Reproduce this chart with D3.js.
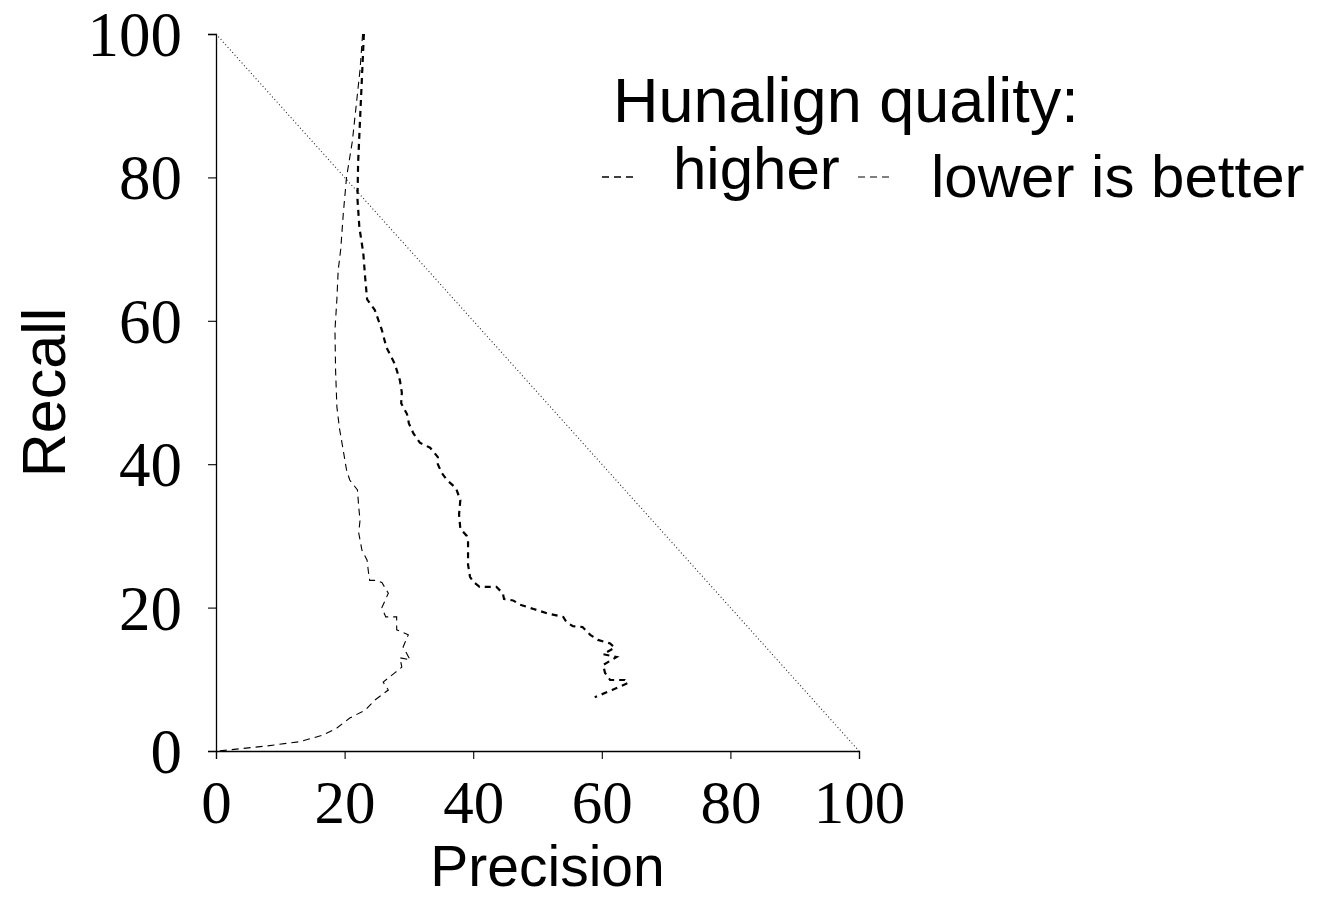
<!DOCTYPE html>
<html>
<head>
<meta charset="utf-8">
<script src="https://cdn.jsdelivr.net/npm/d3@7"></script>
<style>
  body { margin: 0; background: #fff; }
  svg { display: block; }
</style>
</head>
<body>
<svg id="chart"></svg>
<script>
// tick values for both axes
const xTicks = [0, 20, 40, 60, 80, 100];
const yTicks = [0, 20, 40, 60, 80, 100];

// precision / recall curves (top of curve first)
const higherPrecision = [23.0, 22.7, 22.4, 22.1, 22.0, 22.3, 22.9, 23.2, 23.5, 24.7, 25.8, 26.5, 27.8, 28.6, 28.9, 28.8,
  29.7, 30.0, 30.7, 31.7, 33.3, 34.5, 34.5, 35.1, 35.9, 37.3, 38.0, 37.8, 38.0, 39.0, 39.2, 39.2, 39.2, 39.5, 40.0,
  41.0, 43.6, 44.6, 44.8, 46.2, 47.3, 49.4, 51.5, 54.0, 54.5, 55.5, 57.0, 58.2, 59.4, 61.3, 62.0, 60.2, 62.3, 60.2,
  60.5, 61.3, 63.6, 64.1, 61.6, 58.9];
const higherRecall = [100, 94, 88, 82, 77, 73, 69.5, 66, 63, 61.5, 58.7, 56.3, 54, 51.7, 50, 48.5,
  47, 45.7, 44.3, 43, 42.3, 41, 40, 38.8, 37.8, 36.7, 35, 33, 31, 30, 29.4, 28, 26, 24.3, 23.6,
  22.9, 22.9, 22, 21.2, 21, 20.4, 19.8, 19.2, 18.7, 18, 17.4, 17.3, 16.2, 15.5, 15, 14.4, 13.5, 13.1, 12,
  10.9, 9.9, 9.9, 9.5, 8.5, 7.5];

const lowerPrecision = [22.8, 22.4, 21.8, 21.2, 20.3, 19.8, 19.4, 19.0, 18.8, 18.5, 18.6, 18.8, 19.2, 19.7, 20.3, 20.8,
  22.0, 22.2, 22.4, 22.2, 22.7, 23.5, 23.7, 23.9, 25.0, 25.8, 26.8, 25.8, 26.4, 28.1, 28.1, 29.9, 29.1, 30.2, 28.6,
  28.9, 27.8, 26.0, 26.8, 24.7, 23.2, 20.8, 18.8, 16.6, 13.0, 7.9, 0.3];
const lowerRecall = [100, 95, 90, 85, 80, 75, 70, 67, 63, 58.7, 53, 48, 45, 42.4, 39.2, 37.8,
  36.4, 34, 32.2, 30.4, 28, 26.6, 25, 23.8, 23.8, 23.5, 22, 20, 18.7, 18.7, 16.9, 16.2, 14.5, 12.7, 13,
  11.7, 10.9, 9.6, 8.5, 7.1, 5.7, 4.6, 3.2, 2.2, 1.3, 0.7, 0];

const diagonal = [[0, 100], [100, 0]];

const legendTitle = "Hunalign quality:";
const legendLabels = ["higher", "lower is better"];

// dimensions
const width = 1326;
const height = 899;
const marginLeft = 216;
const marginRight = 467;
const marginTop = 34;
const marginBottom = 148;

const serif = "'Liberation Serif', 'DejaVu Serif', serif";
const sans = "'Liberation Sans', 'DejaVu Sans', sans-serif";

const x = d3.scaleLinear([0, 100], [marginLeft, width - marginRight]);
const y = d3.scaleLinear([0, 100], [height - marginBottom, marginTop]);

const svg = d3.select("#chart")
  .attr("width", width)
  .attr("height", height)
  .attr("viewBox", [0, 0, width, height]);

// x axis
svg.append("g")
  .attr("transform", `translate(0,${y(0)})`)
  .call(d3.axisBottom(x).tickValues(xTicks).tickSize(8).tickPadding(21).tickFormat(d3.format("d")))
  .call(g => g.select(".domain").attr("stroke-width", 1.3))
  .call(g => g.selectAll(".tick line").attr("stroke-width", 1.1))
  .call(g => g.selectAll(".tick text")
    .attr("font-family", serif)
    .attr("font-size", 61)
    .attr("fill", "#000"));

// y axis
svg.append("g")
  .attr("transform", `translate(${x(0)},0)`)
  .call(d3.axisLeft(y).tickValues(yTicks).tickSize(8).tickPadding(26).tickFormat(d3.format("d")))
  .call(g => g.select(".domain").attr("stroke-width", 1.3))
  .call(g => g.selectAll(".tick line").attr("stroke-width", 1.1))
  .call(g => g.selectAll(".tick text")
    .attr("font-family", serif)
    .attr("font-size", 63)
    .attr("dy", "0.34em")
    .attr("fill", "#000"));

// axis titles
svg.append("text")
  .attr("x", (x(0) + x(100)) / 2 + 10)
  .attr("y", 886)
  .attr("text-anchor", "middle")
  .attr("font-family", sans)
  .attr("font-size", 57)
  .text("Precision");

svg.append("text")
  .attr("transform", `translate(65,${(y(0) + y(100)) / 2}) rotate(-90)`)
  .attr("text-anchor", "middle")
  .attr("font-family", sans)
  .attr("font-size", 61)
  .text("Recall");

// diagonal reference line
svg.append("path")
  .datum(diagonal)
  .attr("fill", "none")
  .attr("stroke", "#222")
  .attr("stroke-width", 1.1)
  .attr("stroke-dasharray", "1,2.5")
  .attr("d", d3.line().x(d => x(d[0])).y(d => y(d[1])));

const line = d3.line()
  .x(d => x(d[0]))
  .y(d => y(d[1]));

const higher = d3.zip(higherPrecision, higherRecall);
const lower = d3.zip(lowerPrecision, lowerRecall);

svg.append("path")
  .datum(lower)
  .attr("fill", "none")
  .attr("stroke", "#000")
  .attr("stroke-width", 1.1)
  .attr("stroke-dasharray", "7,5")
  .attr("d", line);

svg.append("path")
  .datum(higher)
  .attr("fill", "none")
  .attr("stroke", "#000")
  .attr("stroke-width", 2.2)
  .attr("stroke-dasharray", "6,5")
  .attr("d", line);

// legend
svg.append("text")
  .attr("x", 613)
  .attr("y", 122)
  .attr("font-family", sans)
  .attr("font-size", 63)
  .text(legendTitle);

const legendItems = [
  { label: legendLabels[0], x0: 602, tx: 673, ty: 189, width: 1.6 },
  { label: legendLabels[1], x0: 858, tx: 931, ty: 197, width: 1 }
];

legendItems.forEach(item => {
  svg.append("line")
    .attr("x1", item.x0)
    .attr("x2", item.x0 + 32)
    .attr("y1", 177)
    .attr("y2", 177)
    .attr("stroke", "#000")
    .attr("stroke-width", item.width)
    .attr("stroke-dasharray", "7,5");
  svg.append("text")
    .attr("x", item.tx)
    .attr("y", item.ty)
    .attr("font-family", sans)
    .attr("font-size", 60)
    .text(item.label);
});
</script>
</body>
</html>
